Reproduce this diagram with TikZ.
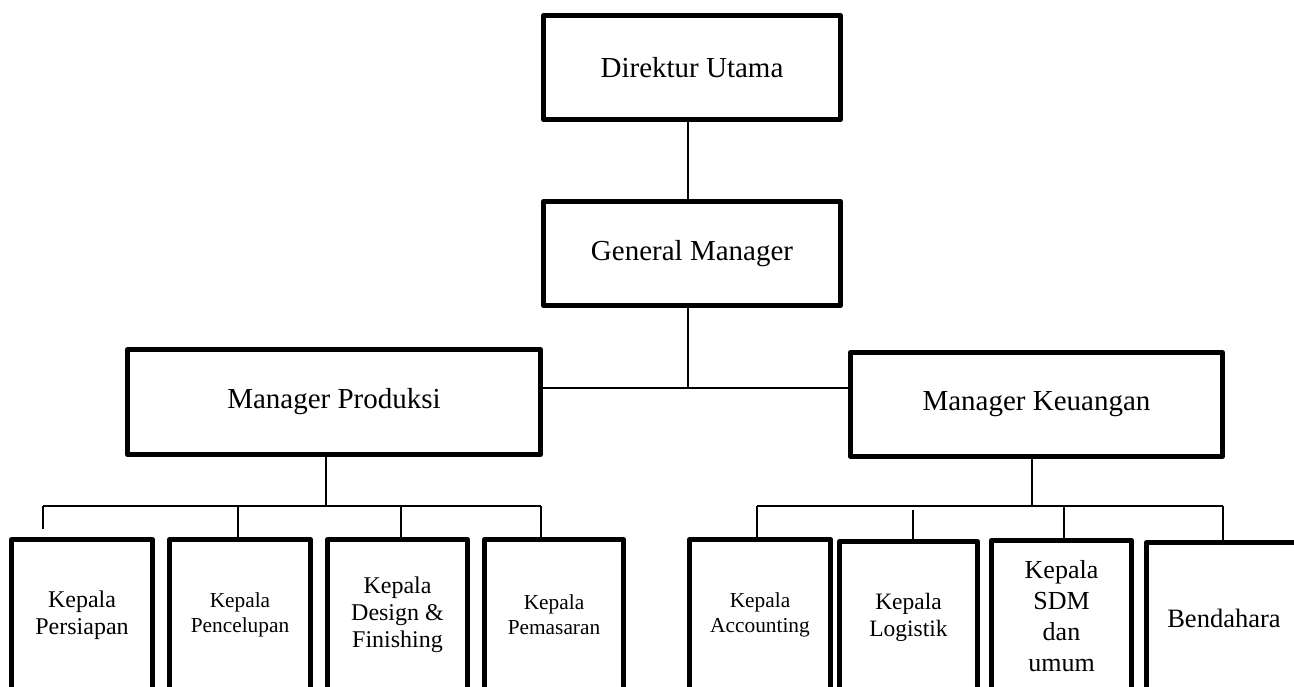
\documentclass[tikz,border=0pt]{standalone}
\usepackage{fontspec}
\setmainfont{Liberation Serif}
\newcommand{\myfs}[2]{\fontsize{#1}{#2}\selectfont}
\begin{document}
\begin{tikzpicture}[x=0.75pt,y=-0.75pt,
  orgbox/.style={draw,line width=3.75pt,inner sep=0pt,line join=round,align=center},
  conn/.style={line width=1.5pt},
  big/.style={font=\myfs{21.75}{26}},
  lower/.style={orgbox,minimum height=113.25pt}]
\useasboundingbox (0,0) rectangle (1294,686);
\clip (0,0) rectangle (1294,686);

% top levels
\node[orgbox,big,minimum width=222.75pt,minimum height=78pt] (du) at (692,67.5) {Direktur Utama};
\node[orgbox,big,minimum width=222.75pt,minimum height=78pt] (gm) at (692,253.5) {General Manager};
\node[orgbox,big,minimum width=309.75pt,minimum height=78.75pt] (mp) at (334,402) {Manager Produksi};
\node[orgbox,big,minimum width=279pt,minimum height=78pt] (mk) at (1036.5,404.5) {Manager Keuangan};

% production units
\node[lower,minimum width=105.75pt,font=\myfs{18}{20.25}] (p1) at (82,615) {Kepala\\Persiapan};
\node[lower,minimum width=105.75pt,font=\myfs{16}{18.75}] (p2) at (240,615) {Kepala\\Pencelupan};
\node[lower,minimum width=105pt,font=\myfs{18}{20.25}] (p3) at (397.5,615) {Kepala\\Design \&\\Finishing};
\node[lower,minimum width=104.25pt,font=\myfs{16}{18.75}] (p4) at (554,615) {Kepala\\Pemasaran};

% finance units
\node[lower,minimum width=105.75pt,font=\myfs{16}{18.75}] (k1) at (760,615) {Kepala\\Accounting};
\node[lower,minimum width=103.5pt,font=\myfs{17.6}{20.25}] (k2) at (908.5,617) {Kepala\\Logistik};
\node[lower,minimum width=105pt,font=\myfs{19.5}{23.25}] (k3) at (1061.5,616) {Kepala\\SDM\\dan\\umum};
\node[lower,minimum width=116.25pt,font=\myfs{19.9}{23}] (k4) at (1224,618) {Bendahara};

% connectors top
\draw[conn] ([xshift=-3pt]du.south) -- ([xshift=-3pt]gm.north);
\coordinate (j1) at (688,388);
\draw[conn] ([xshift=-3pt]gm.south) -- (j1);
\draw[conn] (j1 -| mp.east) -- (j1 -| mk.west);

% production bus
\coordinate (jp) at (326,506);
\coordinate (pa) at (43,506);
\coordinate (pb) at (238,506);
\coordinate (pc) at (401,506);
\coordinate (pd) at (541,506);
\draw[conn] ([xshift=-6pt]mp.south) -- (jp);
\draw[conn] (pa) -- (pd);
\draw[conn] (pa) -- ([yshift=6pt]pa |- p1.north);
\draw[conn] (pb) -- (pb |- p2.north);
\draw[conn] (pc) -- (pc |- p3.north);
\draw[conn] (pd) -- (pd |- p4.north);

% finance bus
\coordinate (jk) at (1032,506);
\coordinate (ka) at (757,506);
\coordinate (kb) at (913,506);
\coordinate (kc) at (1064,506);
\coordinate (kd) at (1223,506);
\draw[conn] ([xshift=-3.375pt]mk.south) -- (jk);
\draw[conn] (ka) -- (kd);
\draw[conn] (ka) -- (ka |- k1.north);
\draw[conn] ([yshift=-3pt]kb) -- (kb |- k2.north);
\draw[conn] (kc) -- (kc |- k3.north);
\draw[conn] (kd) -- (kd |- k4.north);
\end{tikzpicture}
\end{document}
